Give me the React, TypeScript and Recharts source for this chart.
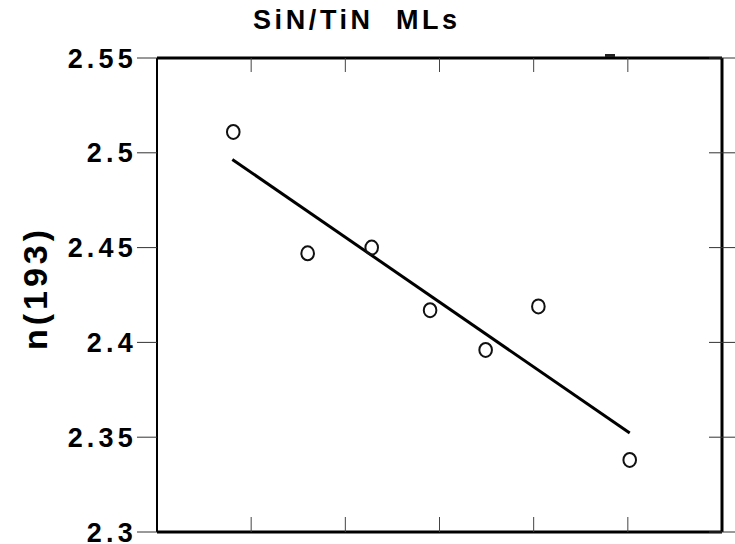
import React from 'react';
import { ComposedChart, Scatter, XAxis, YAxis } from 'recharts';

// measured samples (x in tick units, refractive index at 193 nm)
const sampleX = [0.81, 1.6, 2.28, 2.9, 3.49, 4.05, 5.02];
const nValues = [2.511, 2.447, 2.45, 2.417, 2.396, 2.419, 2.338];

// linear fit end points
const fitX = [0.8, 5.02];
const fitN = [2.4965, 2.3522];

const yTicks = [2.3, 2.35, 2.4, 2.45, 2.5, 2.55];
const xTicks = [0, 1, 2, 3, 4, 5, 6];

const title = 'SiN/TiN\u00a0\u00a0MLs';
const yLabel = 'n(193)';

const points = sampleX.map((x, i) => ({ x, y: nValues[i] }));
const fitLine = fitX.map((x, i) => ({ x, y: fitN[i] }));

const FONT = '"Liberation Sans", Arial, Helvetica, sans-serif';

const Ring = (props: any) => (
  <ellipse cx={props.cx} cy={props.cy} rx={6.3} ry={7} fill="none" stroke="#111" strokeWidth={2} />
);

const NoShape = () => <g />;
const NoTick = () => <g />;

const CrossTick = (props: any) => (
  <line x1={props.x - 13} x2={props.x + 13} y1={props.y} y2={props.y} stroke="#333" strokeWidth={1} />
);

export default function App() {
  return (
    <div style={{ position: 'absolute', left: 0, top: 0, width: 735, height: 544, background: '#fff' }}>
      <ComposedChart width={735} height={544} margin={{ top: 58, right: 0, bottom: 12, left: 0 }}>
        <XAxis
          xAxisId="bottom"
          dataKey="x"
          type="number"
          domain={[0, 6]}
          ticks={xTicks}
          interval={0}
          mirror
          tick={NoTick}
          tickSize={15}
          tickLine={{ stroke: '#444', strokeWidth: 1 }}
          axisLine={{ stroke: '#000', strokeWidth: 3 }}
        />
        <XAxis
          xAxisId="top"
          orientation="top"
          dataKey="x"
          type="number"
          domain={[0, 6]}
          ticks={xTicks}
          interval={0}
          mirror
          tick={NoTick}
          tickSize={14}
          tickLine={{ stroke: '#444', strokeWidth: 1 }}
          axisLine={{ stroke: '#000', strokeWidth: 3 }}
        />
        <YAxis
          yAxisId="left"
          dataKey="y"
          type="number"
          width={157}
          domain={[2.3, 2.55]}
          ticks={yTicks}
          interval={0}
          tickSize={20}
          tickMargin={0}
          tickLine={{ stroke: '#333', strokeWidth: 1 }}
          axisLine={{ stroke: '#000', strokeWidth: 2 }}
          tick={{ fill: '#000', fontSize: 27, fontWeight: 700, fontFamily: FONT, letterSpacing: 4.2 }}
        />
        <YAxis
          yAxisId="right"
          orientation="right"
          dataKey="y"
          type="number"
          width={13}
          domain={[2.3, 2.55]}
          ticks={yTicks}
          interval={0}
          tickSize={0}
          tickMargin={0}
          tickLine={false}
          tick={CrossTick}
          axisLine={{ stroke: '#000', strokeWidth: 3 }}
        />
        {/* invisible series so the top and right frame axes get their scales */}
        <Scatter data={points} xAxisId="top" yAxisId="right" shape={NoShape} isAnimationActive={false} />
        <Scatter
          data={fitLine}
          xAxisId="bottom"
          yAxisId="left"
          shape={NoShape}
          line={{ stroke: '#000', strokeWidth: 3 }}
          isAnimationActive={false}
        />
        <Scatter data={points} xAxisId="bottom" yAxisId="left" shape={Ring} isAnimationActive={false} />
      </ComposedChart>
      <svg width={735} height={544} style={{ position: 'absolute', left: 0, top: 0, pointerEvents: 'none' }}>
        <text x={253} y={29} fontFamily={FONT} fontSize={27} fontWeight={700} letterSpacing={3.6} fill="#000">
          {title}
        </text>
        <text
          x={47}
          y={288}
          transform="rotate(-90, 47, 288)"
          textAnchor="middle"
          fontFamily={FONT}
          fontSize={34}
          fontWeight={700}
          letterSpacing={4}
          fill="#000"
        >
          {yLabel}
        </text>
        <rect x={605} y={54} width={10} height={3} fill="#222" />
      </svg>
    </div>
  );
}
